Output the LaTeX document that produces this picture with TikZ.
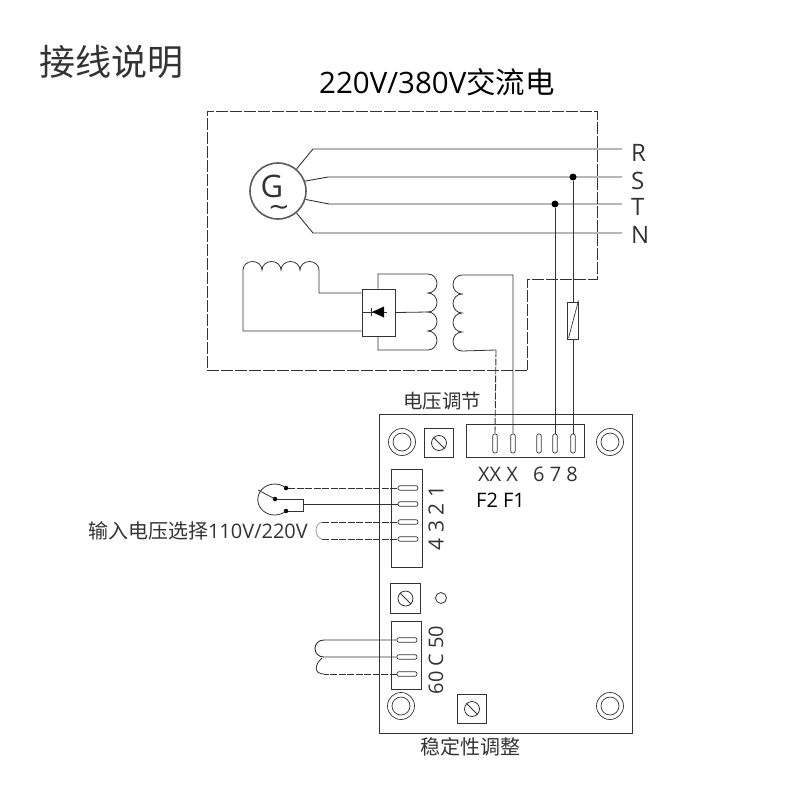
\documentclass[tikz,border=0pt]{standalone}
\usepackage{fontspec}
\setmainfont{Open Sans}
\newfontfamily\cjk{Noto Sans CJK SC}
\newfontfamily\sym{DejaVu Sans}
\usetikzlibrary{positioning}
\definecolor{wire}{gray}{0.2}
\definecolor{txt}{gray}{0.2}
\tikzset{
	wire/.style={draw=wire,line width=0.9pt},
	dashwire/.style={wire,dash pattern=on 7pt off 1.5pt},
	frame/.style={wire,dash pattern=on 12pt off 2pt},
	coil/.style={draw=wire,line width=0.8pt},
	lab/.style={inner sep=0pt,text=txt},
	vslot/.style={draw=wire,line width=0.7pt,rounded corners=2pt,minimum width=4.5pt,minimum height=19pt,inner sep=0pt},
	hslot/.style={draw=wire,line width=0.7pt,rounded corners=2pt,minimum width=20pt,minimum height=4.5pt,inner sep=0pt},
	blk/.style={draw=wire,line width=0.9pt,inner sep=0pt},
	dot/.style={circle,fill=black,inner sep=0pt,minimum size=#1},
	trim/.style={blk,minimum size=29.5pt},
	screw/.style={circle,draw=wire,line width=0.8pt,inner sep=0pt,minimum size=15pt},
	hole/.style={circle,draw=wire,line width=0.7pt,inner sep=0pt,minimum size=27pt},
	holein/.style={circle,draw=wire,line width=0.7pt,inner sep=0pt,minimum size=18pt},
	hump/.style={start angle=180,end angle=0,x radius=9.5pt,y radius=8.5pt},
	rhump/.style={start angle=90,end angle=-90,x radius=9pt,y radius=9.5pt},
	lhump/.style={start angle=90,end angle=270,x radius=9pt,y radius=9.5pt},
}
\begin{document}
\begin{tikzpicture}[x=1pt,y=-1pt]
	\useasboundingbox (0,0) rectangle (800,800);

	% titles
	\node[lab,font=\cjk\fontsize{36}{36}\selectfont,anchor=west] (title) at (39,62) {接线说明};
	\node[lab,font=\fontsize{29.5}{29.5}\selectfont,text=black,anchor=west] (mains) at (319,82) {220V/380V{\cjk 交流电}};

	% generator
	\node[circle,draw=wire!80,line width=1.6pt,minimum size=56pt,inner sep=0pt] (G) at (278,191) {};
	\node[lab,font=\fontsize{31}{31}\selectfont] (Gl) at (272,186.5) {G};
	\node[lab,font=\sym\fontsize{26}{26}\selectfont] (Gt) at (279,210) {\char"223C};

	% phases
	\node[lab,font=\fontsize{24}{24}\selectfont,anchor=west] (R) at (631,153) {R};
	\node[lab,font=\fontsize{24}{24}\selectfont,anchor=west] (S) at (631,181) {S};
	\node[lab,font=\fontsize{24}{24}\selectfont,anchor=west] (T) at (631,207) {T};
	\node[lab,font=\fontsize{24}{24}\selectfont,anchor=west] (N) at (631,235) {N};
	\coordinate (Re) at (622,149);
	\coordinate (Se) at (622,177);
	\coordinate (Te) at (622,204);
	\coordinate (Ne) at (622,233);
	\draw[wire] (G.50) -- (313,149) -- (Re);
	\draw[wire] (G.20) -- (328,177) -- (Se);
	\draw[wire] (G.-17) -- (329,204) -- (Te);
	\draw[wire] (G.-50) -- (313,233) -- (Ne);
	\node[dot=7pt] (Sd) at (573,177) {};
	\node[dot=7pt] (Td) at (555,204) {};

	% outline of the generator
	\draw[frame] (527,370) -- (207,370) -- (207,111) -- (597,111) -- (597,279) -- (527,279) -- cycle;

	% rectifier
	\node[blk,minimum width=33.5pt,minimum height=47pt] (rect) at (378.75,312.5) {};
	\coordinate (d1) at (363,312);
	\coordinate (d2) at (387,312);
	\draw[wire,line width=0.7pt] (d1) -- (d2);
	\draw[wire,line width=0.7pt] (371,308) -- (371,316);
	\fill[black] (372,312) -- (384,306.5) -- (384,317.5) -- cycle;

	% field coil
	\draw[coil] (rect.west |- 0,331) -- (243,331) -- (243,270)
		arc[hump] arc[hump] arc[hump] arc[hump]
		-- (319,293) -- (rect.west |- 0,293);

	% primary
	\draw[coil] (rect.north -| 378,0) -- (378,274) -- (428,274)
		arc[rhump] arc[rhump] arc[rhump] arc[rhump]
		-- (378,350) -- (rect.south -| 378,0);
	\draw[coil] (rect.east) -- (428,312);

	% board
	\node[blk,minimum width=253pt,minimum height=319pt] (board) at (505.5,573.5) {};
	\node[hole] (h1) at (402,442) {};
	\node[holein] (h1i) at (402,442) {};
	\node[hole] (h2) at (610,442) {};
	\node[holein] (h2i) at (610,442) {};
	\node[hole] (h3) at (401,706) {};
	\node[holein] (h3i) at (401,706) {};
	\node[hole] (h4) at (610,706) {};
	\node[holein] (h4i) at (610,706) {};
	\node[circle,draw=wire,line width=0.8pt,inner sep=0pt,minimum size=11pt] (led) at (441,598) {};

	% trimmers
	\node[trim] (t1) at (439,443) {};
	\node[screw] (s1) at (439,443) {};
	\draw[wire] (s1.135) -- (s1.-45);
	\node[trim] (t2) at (405.5,598.5) {};
	\node[screw] (s2) at (405.5,598.5) {};
	\draw[wire] (s2.135) -- (s2.-45);
	\node[trim] (t3) at (472,709) {};
	\node[screw] (s3) at (472,709) {};
	\draw[wire] (s3.135) -- (s3.-45);

	% terminal blocks
	\node[blk,minimum width=118pt,minimum height=33pt] (top) at (525,440.5) {};
	\node[vslot] (xx) at (495,443.5) {};
	\node[vslot] (x) at (513,443.5) {};
	\node[vslot] (t6) at (539,443.5) {};
	\node[vslot] (t7) at (555,443.5) {};
	\node[vslot] (t8) at (573,443.5) {};

	\node[blk,minimum width=31pt,minimum height=98pt] (sel) at (406.5,518) {};
	\node[hslot] (p1) at (408,488) {};
	\node[hslot] (p2) at (408,504) {};
	\node[hslot] (p3) at (408,522) {};
	\node[hslot] (p4) at (408,539) {};

	\node[blk,minimum width=30pt,minimum height=68pt] (frq) at (406,655) {};
	\node[hslot] (f1) at (407,640) {};
	\node[hslot] (f2) at (407,657) {};
	\node[hslot] (f3) at (407,674) {};

	% secondary and sensing
	\draw[coil] (x.north) -- (513,275) -- (462,275)
		arc[lhump] arc[lhump] arc[lhump] arc[lhump]
		-- (496,350);
	\draw[dashwire] (496,350) -- (xx.north);
	\node[draw=wire,line width=0.9pt,minimum width=11pt,minimum height=37pt,inner sep=0pt] (fuse) at (573,320.5) {};
	\draw[wire,line width=0.7pt] (fuse.south west) ++(1.5,-1.5) -- ([xshift=-0.5pt,yshift=1pt]fuse.north east);
	\draw[wire] (Sd) -- (fuse);
	\draw[wire] (fuse) -- (t8);
	\draw[wire] (Td) -- (t7);

	% voltage selector
	\node[dot=4.5pt] (a1) at (286,488) {};
	\node[dot=4.5pt] (a2) at (275,499) {};
	\node[dot=4.5pt] (a3) at (286,511) {};
	\coordinate (arm) at (258,490);
	\draw[coil] (a1.center) arc[start angle=48,end angle=312,x radius=16.9pt,y radius=15.5pt];
	\draw[coil] (arm) -- (a2.center);
	\draw[wire] (a2) -- (303.5,499) -- (303.5,511) -- (a3);
	\draw[dashwire] (a1) -- (p1);
	\draw[wire] (303.5,504) -- (p2);
	\draw[dashwire] (322,522) -- (p3);
	\draw[dashwire] (322,539) -- (p4);
	\draw[coil,draw=wire!50] (322,522) .. controls (314,524) and (314,537) .. (322,539);

	% frequency links
	\draw[wire] (f1) -- (324,640) .. controls (312,640) and (312,657) .. (324,657) -- (f2);
	\draw[dashwire] (f3) -- (324,674);
	\draw[coil] (324,674) .. controls (314,674) and (314,665) .. (322,658);

	% labels
	\node[lab,font=\cjk\fontsize{19.5}{19.5}\selectfont,anchor=west] (lv) at (403,401) {电压调节};
	\node[lab,font=\fontsize{20}{20}\selectfont,anchor=west] (lx) at (478,474) {XX X};
	\node[lab,font=\fontsize{20}{20}\selectfont,anchor=west] (l6) at (533,474) {6 7 8};
	\node[lab,font=\fontsize{20}{20}\selectfont,text=black,anchor=west] (lf) at (476,500) {F2 F1};
	\node[lab,font=\fontsize{20}{20}\selectfont,anchor=east] (ls) at (308,531) {{\cjk 输入电压选择}110V/220V};
	\node[lab,font=\fontsize{21}{21}\selectfont,rotate=90] (ln) at (436,518) {4 3 2 1};
	\node[lab,font=\fontsize{20}{20}\selectfont,rotate=90] (lc) at (436,660) {60 C 50};
	\node[lab,font=\cjk\fontsize{20}{20}\selectfont,anchor=west] (lw) at (420,747) {稳定性调整};
\end{tikzpicture}
\end{document}
